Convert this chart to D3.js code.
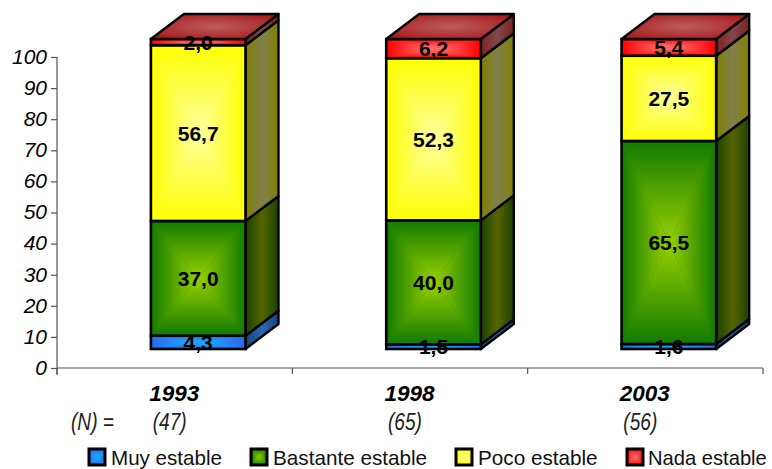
<!DOCTYPE html>
<html><head><meta charset="utf-8">
<script src="https://cdnjs.cloudflare.com/ajax/libs/d3/7.8.5/d3.min.js"></script>
<style>html,body{margin:0;padding:0;background:#fff}svg{display:block}text{font-family:"Liberation Sans",Arial,sans-serif}</style>
</head><body><svg id="c" width="772" height="469"></svg>
<script>
const years = ["1993","1998","2003"];
const sampleSizes = ["(47)","(65)","(56)"];
const seriesNames = ["Muy estable","Bastante estable","Poco estable","Nada estable"];
const muyEstable = [4.3,1.5,1.6];
const bastanteEstable = [37.0,40.0,65.5];
const pocoEstable = [56.7,52.3,27.5];
const nadaEstable = [2.0,6.2,5.4];
const yTicks = [0,10,20,30,40,50,60,70,80,90,100];
const palette = [
 {edge:"#2a66ee",mid:"#17b8ff",sideEdge:"#1a3f80",sideMid:"#2a6ab0"},
 {edge:"#117a00",mid:"#98d000",sideEdge:"#1c4200",sideMid:"#556400"},
 {edge:"#ffff00",mid:"#ffffa0",sideEdge:"#808000",sideMid:"#80804c"},
 {edge:"#ff0000",mid:"#ff8080",sideEdge:"#802020",sideMid:"#80484c"}];
const topEdge="#a81c1c", topMid="#bc5c60";

const values=[muyEstable,bastanteEstable,pocoEstable,nadaEstable];
const svg=d3.select("#c"), defs=svg.append("defs");
const x=d3.scaleBand().domain(years).range([57,763]);
const y=d3.scaleLinear().domain([0,100]).range([368,57]);
const yBar=d3.scaleLinear().domain([0,100]).range([349,39]);
const barW=x.bandwidth()*0.402, barOff=x.bandwidth()*0.399, dx=33, dy=-25;

function squeeze(sel,f){sel.each(function(){this.setAttribute("textLength",this.getComputedTextLength()*f);this.setAttribute("lengthAdjust","spacingAndGlyphs");});return sel;}

const dirs={t:[0,0,0,1],b:[0,1,0,0],l:[0,0,1,0],r:[1,0,0,0]};
function lin(id,d,a,b){const g=defs.append("linearGradient").attr("id",id)
  .attr("x1",d[0]).attr("y1",d[1]).attr("x2",d[2]).attr("y2",d[3]);
  g.append("stop").attr("offset",0).attr("stop-color",a);
  g.append("stop").attr("offset",1).attr("stop-color",b);}
palette.forEach((p,i)=>{
  Object.keys(dirs).forEach(k=>lin(`g${i}${k}`,dirs[k],p.edge,p.mid));
  const s=defs.append("linearGradient").attr("id",`s${i}`);
  s.append("stop").attr("offset",0).attr("stop-color",p.sideEdge);
  s.append("stop").attr("offset",.5).attr("stop-color",p.sideMid);
  s.append("stop").attr("offset",1).attr("stop-color",p.sideEdge);
});
const tg=defs.append("radialGradient").attr("id","topG").attr("r",.6);
tg.append("stop").attr("offset",0).attr("stop-color",topMid);
tg.append("stop").attr("offset",1).attr("stop-color",topEdge);

function faceted(g,i,x0,y0,w,h,sw){
  const cx=x0+w/2, cy=y0+h/2, X=x0+w, Y=y0+h;
  g.append("rect").attr("x",x0).attr("y",y0).attr("width",w).attr("height",h).attr("fill",palette[i].edge);
  [["t",[[x0,y0],[X,y0],[cx,cy]]],["b",[[x0,Y],[X,Y],[cx,cy]]],
   ["l",[[x0,y0],[x0,Y],[cx,cy]]],["r",[[X,y0],[X,Y],[cx,cy]]]].forEach(([k,pts])=>{
    g.append("polygon").attr("points",pts.join(" ")).attr("fill",`url(#g${i}${k})`);
  });
  g.append("rect").attr("x",x0).attr("y",y0).attr("width",w).attr("height",h)
   .attr("fill","none").attr("stroke","#000").attr("stroke-width",sw);
}

const axY=svg.append("g").attr("transform","translate(57,0)")
  .call(d3.axisLeft(y).tickValues(yTicks).tickSize(6).tickPadding(4));
axY.select(".domain").attr("d","M0,57V375").attr("stroke","#555").attr("stroke-width",1.2);
axY.selectAll("line").attr("stroke","#555").attr("stroke-width",1.2);
axY.selectAll("text").attr("font-size",21).attr("font-style","italic").attr("fill","#000")
  .attr("font-family",'"Liberation Sans"').attr("dy","0.3em");
const bounds=[...years.map(d=>x(d)),x.range()[1]];
svg.append("line").attr("x1",57).attr("x2",763).attr("y1",y(0)).attr("y2",y(0)).attr("stroke","#555").attr("stroke-width",1.2);
svg.selectAll(".xt").data(bounds).join("line").attr("x1",d=>d).attr("x2",d=>d)
  .attr("y1",y(0)).attr("y2",y(0)+6).attr("stroke","#555").attr("stroke-width",1.2);

years.forEach((yr,c)=>{
  const g=svg.append("g"), x0=x(yr)+barOff;
  let acc=0;
  const segs=values.map((v,i)=>{const s={i,a:acc,b:acc+v[c],v:v[c]};acc+=v[c];return s;});
  segs.forEach(s=>{
    const ya=yBar(s.a), yb=yBar(s.b), X=x0+barW;
    g.append("polygon").attr("points",[[X,ya],[X+dx,ya+dy],[X+dx,yb+dy],[X,yb]].join(" "))
      .attr("fill",`url(#s${s.i})`).attr("stroke","#000").attr("stroke-width",2.4).attr("stroke-linejoin","round");
    faceted(g,s.i,x0,yb,barW,ya-yb,2.6);
  });
  const T=yBar(acc), X=x0+barW;
  g.append("polygon").attr("points",[[x0,T],[X,T],[X+dx,T+dy],[x0+dx,T+dy]].join(" "))
    .attr("fill","url(#topG)").attr("stroke","#000").attr("stroke-width",2.4).attr("stroke-linejoin","round");
  segs.forEach(s=>{
    g.append("text").attr("x",x0+barW/2).attr("y",(yBar(s.a)+yBar(s.b))/2+7.5)
     .attr("text-anchor","middle").attr("font-size",21).attr("font-weight","bold").attr("fill","#000")
     .text(s.v.toFixed(1).replace(".",","));
  });
  svg.append("text").attr("x",x(yr)+x.bandwidth()/2-0.5).attr("y",400.5).attr("text-anchor","middle")
    .attr("font-size",22.5).attr("font-weight","bold").attr("font-style","italic").text(yr);
  squeeze(svg.append("text").attr("x",x(yr)+x.bandwidth()/2-5).attr("y",430).attr("text-anchor","middle")
    .attr("font-size",23).attr("font-style","italic").attr("fill","#222").text(sampleSizes[c]),0.83);
});
squeeze(svg.append("text").attr("x",71).attr("y",430).attr("font-size",23).attr("font-style","italic").attr("fill","#222").text("(N) ="),0.83);

const legX=[89,251,456,627];
const legGap=[22,22,22,21];
const legFit=[0.98,0.985,0.985,0.96];
seriesNames.forEach((n,i)=>{
  const g=svg.append("g");
  faceted(g,i,legX[i],449,16,16,3);
  squeeze(g.append("text").attr("x",legX[i]+legGap[i]).attr("y",464.5).attr("font-size",21).attr("fill","#111").text(n),legFit[i]);
});
</script></body></html>
